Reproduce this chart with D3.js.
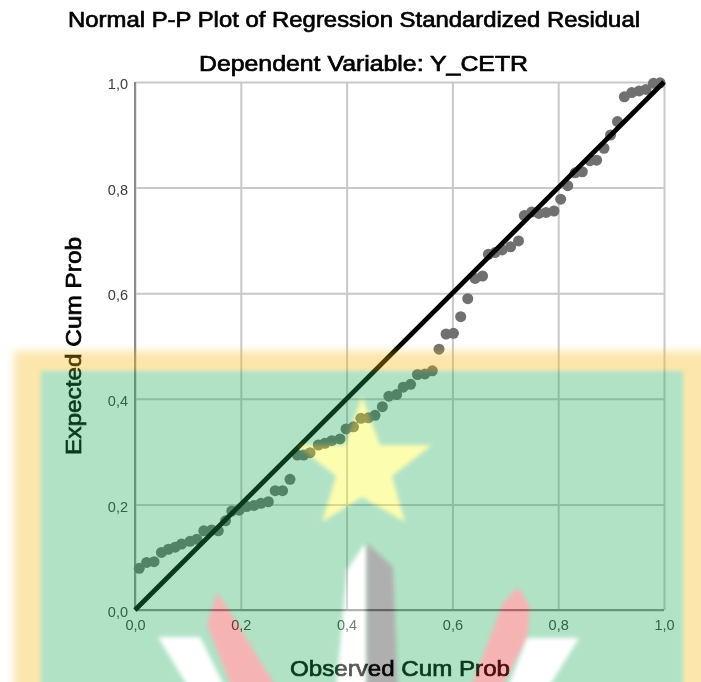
<!DOCTYPE html>
<html>
<head>
<meta charset="utf-8">
<script src="https://cdn.jsdelivr.net/npm/d3@7"></script>
<style>
html, body { margin: 0; padding: 0; background: #fff; }
svg { display: block; }
text { font-family: "Liberation Sans", Arial, sans-serif; }
.grid line { stroke: #c9c9c9; stroke-width: 2; }
.grid path { display: none; }
.ticks path, .ticks line { display: none; }
.ticks text { fill: #3c3c3c; font-size: 14.5px; }
.title { font-size: 22px; fill: #000; stroke: #000; stroke-width: .7; text-anchor: middle; }
.label { font-size: 22px; fill: #000; stroke: #000; stroke-width: .7; text-anchor: middle; }
</style>
</head>
<body>
<div id="container"></div>
<script>
var observed = [
  .008, .022, .036, .05, .063, .076, .088, .104, .117, .13, .145, .1575, .171,
  .183, .197, .211, .225, .238, .252, .265, .279, .293, .307, .319, .331, .3465,
  .359, .372, .3875, .399, .413, .427, .441, .4537, .4676, .48, .4946, .507, .521,
  .534, .548, .562, .5747, .588, .602, .6157, .629, .643, .657, .668, .6805, .694,
  .71, .725, .736, .75, .7635, .777, .792, .8047, .818, .832, .8456, .86, .8727,
  .8866, .899, .912, .925, .939, .953, .966, .98, .9925
];
var expected = [
  .079, .09, .0915, .109, .115, .119, .125, .13, .134, .15, .1515, .15, .169,
  .1875, .189, .196, .198, .202, .205, .226, .226, .2475, .2935, .2935, .298, .3125,
  .3157, .3207, .324, .343, .347, .363, .364, .3687, .385, .405, .408, .422, .4275,
  .446, .447, .453, .494, .5227, .524, .5555, .5896, .628, .6326, .6736, .677, .682,
  .688, .699, .747, .754, .751, .753, .7557, .778, .8036, .828, .83, .851, .852,
  .8745, .8996, .925, .972, .98, .983, .986, .9975, .9985
];
var tickValues = [0, 0.2, 0.4, 0.6, 0.8, 1];
var titleText = "Normal P-P Plot of Regression Standardized Residual";
var subtitleText = "Dependent Variable: Y_CETR";
var xLabel = "Observed Cum Prob";
var yLabel = "Expected Cum Prob";

var width = 701,
    height = 682;

var x = d3.scaleLinear().domain([0, 1]).range([135, 664]);
var y = d3.scaleLinear().domain([0, 1]).range([610, 82]);

var fmt = d3.formatLocale({decimal: ",", thousands: ".", grouping: [3], currency: ["", ""]}).format(".1f");

var svg = d3.select("#container").append("svg")
    .attr("width", width)
    .attr("height", height);

var defs = svg.append("defs");
function blur(id, amount) {
  defs.append("filter").attr("id", id)
      .attr("filterUnits", "userSpaceOnUse")
      .attr("x", -20).attr("y", -20).attr("width", width + 40).attr("height", height + 40)
    .append("feGaussianBlur").attr("stdDeviation", amount);
}
blur("soft", 2);
blur("soft2", 4);
blur("scan", 0.45);

// the screenshot is a bit soft, everything goes through a small blur
var chart = svg.append("g").attr("filter", "url(#scan)");

// grid
chart.append("g").attr("class", "grid")
    .attr("transform", "translate(0,610)")
    .call(d3.axisBottom(x).tickValues(tickValues).tickSize(-528).tickFormat(""));
chart.append("g").attr("class", "grid")
    .attr("transform", "translate(135,0)")
    .call(d3.axisLeft(y).tickValues(tickValues).tickSize(-529).tickFormat(""));

// the two darker axis lines
chart.append("line").attr("x1", x(0)).attr("x2", x(0)).attr("y1", y(0)).attr("y2", y(1))
    .attr("stroke", "#8c8c8c").attr("stroke-width", 2);
chart.append("line").attr("x1", x(0)).attr("x2", x(1)).attr("y1", y(0)).attr("y2", y(0))
    .attr("stroke", "#8c8c8c").attr("stroke-width", 2);

// tick labels
chart.append("g").attr("class", "ticks")
    .attr("transform", "translate(0,610)")
    .call(d3.axisBottom(x).tickValues(tickValues).tickSize(0).tickPadding(10).tickFormat(fmt));
chart.append("g").attr("class", "ticks")
    .attr("transform", "translate(135,2)")
    .call(d3.axisLeft(y).tickValues(tickValues).tickSize(0).tickPadding(7).tickFormat(fmt));

// points
chart.append("g").selectAll("circle")
    .data(observed)
    .join("circle")
    .attr("cx", function(d) { return x(d); })
    .attr("cy", function(d, i) { return y(expected[i]); })
    .attr("r", 5.5)
    .attr("fill", "#707070");

// reference line
chart.append("line")
    .attr("x1", x(0)).attr("y1", y(0))
    .attr("x2", x(1)).attr("y2", y(1))
    .attr("stroke", "#000")
    .attr("stroke-width", 4.8);

// titles
chart.append("text").attr("class", "title").attr("x", 354).attr("y", 26.5)
    .attr("textLength", 572).attr("lengthAdjust", "spacingAndGlyphs").text(titleText);
chart.append("text").attr("class", "title").attr("x", 363.5).attr("y", 70.5)
    .attr("textLength", 329).attr("lengthAdjust", "spacingAndGlyphs").text(subtitleText);
chart.append("text").attr("class", "label").attr("x", 400).attr("y", 675.5)
    .attr("textLength", 220).attr("lengthAdjust", "spacingAndGlyphs").text(xLabel);
chart.append("text").attr("class", "label")
    .attr("transform", "translate(80.5,346) rotate(-90)")
    .attr("textLength", 218).attr("lengthAdjust", "spacingAndGlyphs").text(yLabel);

// logo watermark, laid over the whole chart at low opacity
var logo = svg.append("g").attr("opacity", 0.34);
logo.append("rect").attr("x", 14).attr("y", 351).attr("width", 700).attr("height", 360)
    .attr("fill", "#f5b50c").attr("filter", "url(#soft2)");
logo.append("rect").attr("x", 41).attr("y", 371).attr("width", 642).attr("height", 340)
    .attr("fill", "#1eaa5a").attr("filter", "url(#soft)");

var shapes = [
  {fill: "#fafa18", pts: "362,396 380,445 432,445 392,476 405,522 362,497 322,522 336,476 296,445 345,445"},
  {fill: "#ffffff", pts: "158,637 200,637 226,690 190,690"},
  {fill: "#e52020", pts: "217,593 227,607 278,690 233,690 207,625"},
  {fill: "#ffffff", pts: "363,546 367,546 367,690 336,690 347,570"},
  {fill: "#181818", pts: "367,543 393,567 398,690 367,690"},
  {fill: "#e52020", pts: "518,587 530,607 527,640 500,690 470,690 503,603"},
  {fill: "#ffffff", pts: "527,638 579,638 547,690 507,690"}
];
logo.selectAll("polygon")
    .data(shapes)
    .join("polygon")
    .attr("points", function(d) { return d.pts; })
    .attr("fill", function(d) { return d.fill; })
    .attr("filter", "url(#soft)");
</script>
</body>
</html>
